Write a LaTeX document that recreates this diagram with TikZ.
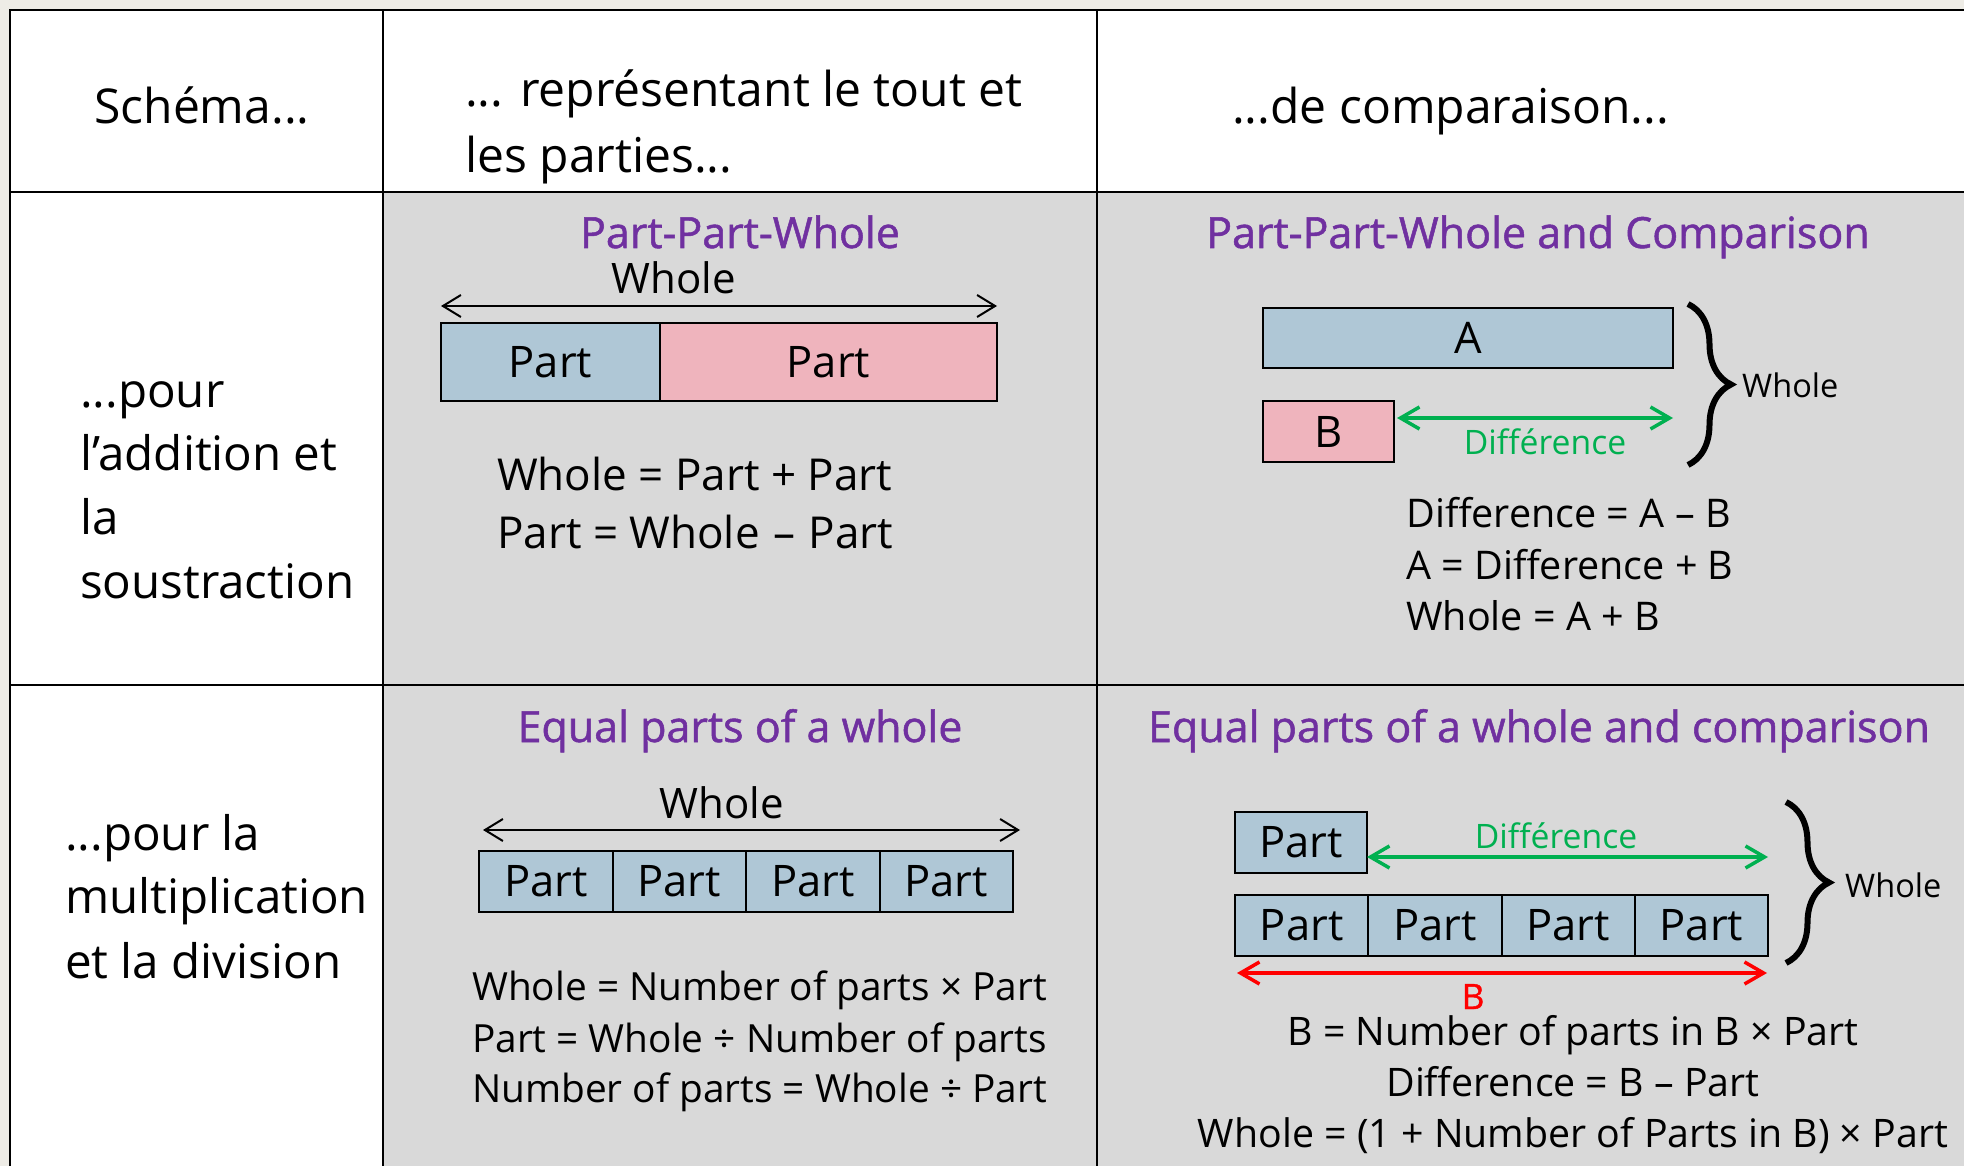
\documentclass[tikz,border=0pt]{standalone}
\usepackage{fontspec}
\setmainfont{Open Sans}
\newfontfamily\heavyfont{Open Sans}[FakeBold=1.2]
\usetikzlibrary{arrows.meta,decorations.pathreplacing}

\definecolor{pagebg}{RGB}{238,236,230}
\definecolor{cellgrey}{RGB}{217,217,217}
\definecolor{barblue}{RGB}{175,199,214}
\definecolor{barpink}{RGB}{239,180,189}
\definecolor{ttlpurple}{RGB}{112,48,160}
\definecolor{diffgreen}{RGB}{0,176,80}
\definecolor{bred}{RGB}{255,0,0}

\newcommand\setfs[1]{\fontsize{#1}{#1}\selectfont}

\tikzset{
  rule/.style={line width=2.5pt, draw=black},
  hdr/.style={font=\setfs{48}, inner sep=0pt, anchor=base west},
  rowlbl/.style={font=\setfs{47.5}, inner sep=0pt, anchor=base west},
  ttl/.style={font=\heavyfont\setfs{43}, text=ttlpurple, inner sep=0pt, anchor=base},
  bar/.style={draw=black, line width=2pt, outer sep=0pt, inner sep=0pt,
    font=\setfs{43.5}, anchor=north west, minimum height=61pt},
  wlbl/.style={font=\setfs{42}, inner sep=0pt, anchor=base},
  eqbig/.style={font=\setfs{44}, inner sep=0pt, anchor=base west},
  eqsmall/.style={font=\setfs{39.5}, inner sep=0pt, anchor=base west},
  eqmul/.style={font=\setfs{38.8}, inner sep=0pt, anchor=base west},
  eqmid/.style={font=\setfs{39.3}, inner sep=0pt, anchor=base},
  sidelbl/.style={font=\setfs{32.5}, inner sep=0pt, anchor=base west},
  difflbl/.style={font=\setfs{33.7}, text=diffgreen, inner sep=0pt, anchor=base},
  blkarrow/.style={line width=2pt,
    arrows={Straight Barb[length=18pt,width=22pt]-Straight Barb[length=18pt,width=22pt]}},
  grnarrow/.style={line width=3.5pt, draw=diffgreen,
    arrows={Straight Barb[length=19pt,width=22pt]-Straight Barb[length=19pt,width=22pt]}},
  redarrow/.style={line width=3.5pt, draw=bred,
    arrows={Straight Barb[length=19pt,width=22pt]-Straight Barb[length=19pt,width=22pt]}},
  curly/.style={line width=6pt, decorate,
    decoration={brace, amplitude=43pt, aspect=0.5}},
}

\begin{document}
\begin{tikzpicture}[x=1pt,y=-1pt]
\useasboundingbox (0,0) rectangle (1964,1166);

% page and cell backgrounds
\fill[pagebg] (0,0) rectangle (1964,1166);
\fill[white] (10,10) rectangle (1964,1166);
\fill[cellgrey] (383,192) rectangle (1964,1166);

% table rules
\draw[rule] (10,1166) -- (10,10) -- (1964,10);
\draw[rule] (383,10) -- (383,1166);
\draw[rule] (1097,10) -- (1097,1166);
\draw[rule] (10,192) -- (1964,192);
\draw[rule] (10,685) -- (1964,685);

% header row
\node[hdr, anchor=base] (hSchema) at (202,124) {Schéma...};
\node[hdr] (hTout1) at (465,107) {... représentant le tout et};
\node[hdr] (hTout2) at (465,173) {les parties...};
\node[hdr] (hComp) at (1232,124) {...de comparaison...};

% row labels
\node[rowlbl] (rA1) at (80,407) {...pour};
\node[rowlbl] (rA2) at (80,470) {l’addition et};
\node[rowlbl] (rA3) at (80,534) {la};
\node[rowlbl] (rA4) at (80,598) {soustraction};
\node[rowlbl] (rB1) at (65,850) {...pour la};
\node[rowlbl] (rB2) at (65,913) {multiplication};
\node[rowlbl] (rB3) at (65,978) {et la division};

% ---- Part-Part-Whole
\node[ttl] (tPPW) at (740,248) {Part-Part-Whole};
\node[bar, fill=barblue, minimum width=219pt, minimum height=78pt] (ppA) at (441,323) {Part};
\node[bar, fill=barpink, minimum width=337pt, minimum height=78pt] (ppB) at (ppA.north east) {Part};
\draw[blkarrow] ([yshift=17pt]ppA.north west) -- ([yshift=17pt]ppB.north east);
\node[wlbl] (wPPW) at (674,294) {Whole};
\node[eqbig] (eP1) at (497,490) {Whole = Part + Part};
\node[eqbig] (eP2) at (497,548) {Part = Whole\hspace{2pt} –\hspace{2pt} Part};

% ---- Part-Part-Whole and Comparison
\node[ttl] (tPPWC) at (1538,248) {Part-Part-Whole and Comparison};
\node[bar, fill=barblue, minimum width=410pt, minimum height=60pt] (boxA) at (1263,308) {A};
\node[bar, fill=barpink, minimum width=131pt, minimum height=61pt] (boxB) at (1263,401) {B};
\coordinate (dA) at ([xshift=3pt,yshift=-17pt]boxB.north east);
\coordinate (dB) at (boxA.east |- dA);
\draw[grnarrow] (dA) -- (dB);
\node[difflbl] (dlA) at (1545,454) {Différence};
\coordinate (brAt) at (1688,304);
\coordinate (brAb) at (1688,465);
\draw[curly] (brAt) -- (brAb);
\node[sidelbl] (wsA) at (1742,397) {Whole};
\node[eqsmall] (eC1) at (1406,527) {Difference = A – B};
\node[eqsmall] (eC2) at (1406,579) {A = Difference + B};
\node[eqsmall] (eC3) at (1406,630) {Whole = A + B};

% ---- Equal parts of a whole
\node[ttl] (tEQ) at (740,742) {Equal parts of a whole};
\node[bar, fill=barblue, minimum width=133.5pt] (q1) at (479,851) {Part};
\node[bar, fill=barblue, minimum width=133.5pt] (q2) at (q1.north east) {Part};
\node[bar, fill=barblue, minimum width=133.5pt] (q3) at (q2.north east) {Part};
\node[bar, fill=barblue, minimum width=133.5pt] (q4) at (q3.north east) {Part};
\coordinate (eqL) at ([xshift=4pt,yshift=21pt]q1.north west);
\coordinate (eqR) at ([xshift=7pt,yshift=21pt]q4.north east);
\draw[blkarrow] (eqL) -- (eqR);
\node[wlbl] (wEQ) at (722,818) {Whole};
\node[eqmul] (eM1) at (472,1000) {Whole = Number of parts × Part};
\node[eqmul] (eM2) at (472,1052) {Part = Whole ÷ Number of parts};
\node[eqmul] (eM3) at (472,1102) {Number of parts = Whole ÷ Part};

% ---- Equal parts of a whole and comparison
\node[ttl] (tEQC) at (1539,742) {Equal parts of a whole and comparison};
\node[bar, fill=barblue, minimum width=132pt] (top1) at (1235,812) {Part};
\node[bar, fill=barblue, minimum width=133.25pt] (b1) at (1235,895) {Part};
\node[bar, fill=barblue, minimum width=133.25pt] (b2) at (b1.north east) {Part};
\node[bar, fill=barblue, minimum width=133.25pt] (b3) at (b2.north east) {Part};
\node[bar, fill=barblue, minimum width=133.25pt] (b4) at (b3.north east) {Part};
\coordinate (dC) at ([yshift=16pt]top1.south east);
\coordinate (dD) at (b4.east |- dC);
\draw[grnarrow] (dC) -- (dD);
\node[difflbl] (dlB) at (1556,848) {Différence};
\coordinate (rL) at ([xshift=2pt,yshift=-17pt]b1.south west);
\coordinate (rR) at ([xshift=-1pt,yshift=-17pt]b4.south east);
\draw[redarrow] (rL) -- (rR);
\node[font=\heavyfont\setfs{35}, text=bred, inner sep=0pt, anchor=base] (bLbl) at (1473,1009) {B};
\coordinate (brBt) at (1786,802);
\coordinate (brBb) at (1786,963);
\draw[curly] (brBt) -- (brBb);
\node[sidelbl] (wsB) at (1845,897) {Whole};
\node[eqmid] (eN1) at (1573,1045) {B = Number of parts in B × Part};
\node[eqmid] (eN2) at (1573,1096) {Difference = B – Part};
\node[eqmid] (eN3) at (1573,1147) {Whole = (1 + Number of Parts in B) × Part};
\end{tikzpicture}
\end{document}
